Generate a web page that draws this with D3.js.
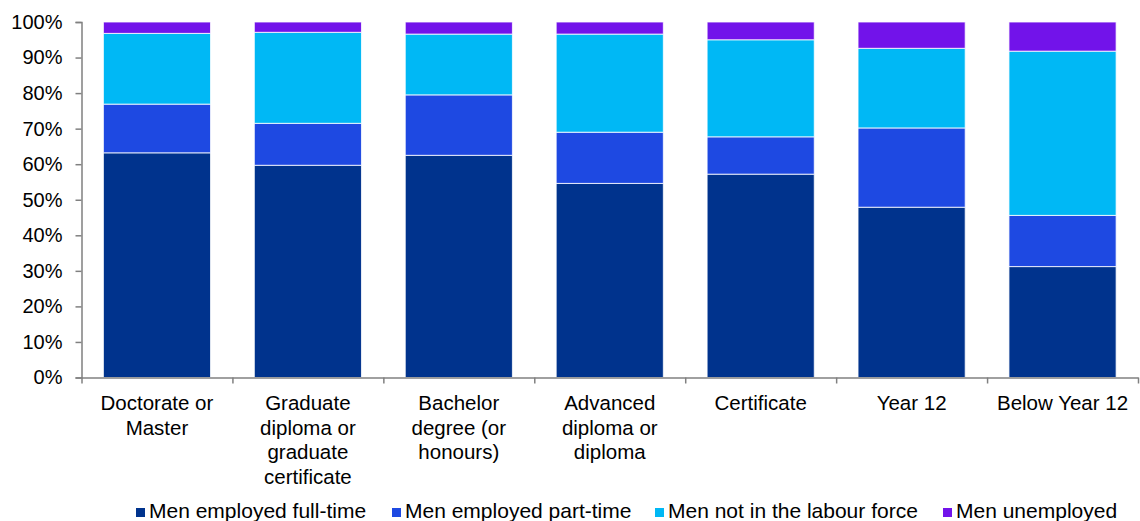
<!DOCTYPE html>
<html>
<head>
<meta charset="utf-8">
<script src="https://cdn.jsdelivr.net/npm/d3@7"></script>
<style>
  html, body { margin: 0; padding: 0; background: #fff; }
  svg { display: block; font-family: "Liberation Sans", Arial, sans-serif; }
</style>
</head>
<body>
<svg id="chart" width="1140" height="521"></svg>
<script>
// ---- Data ----
const categories = [
  "Doctorate or\nMaster",
  "Graduate\ndiploma or\ngraduate\ncertificate",
  "Bachelor\ndegree (or\nhonours)",
  "Advanced\ndiploma or\ndiploma",
  "Certificate",
  "Year 12",
  "Below Year 12"
];
const seriesNames = [
  "Men employed full-time",
  "Men employed part-time",
  "Men not in the labour force",
  "Men unemployed"
];
const fullTime   = [63.2, 59.7, 62.5, 54.6, 57.2, 47.9, 31.2];
const partTime   = [13.7, 11.8, 17.0, 14.4, 10.5, 22.3, 14.4];
const notInLF    = [19.9, 25.6, 17.1, 27.6, 27.3, 22.4, 46.2];
const unemployed = [ 3.2,  2.9,  3.4,  3.4,  5.0,  7.4,  8.2];
const yTicks = [0, 10, 20, 30, 40, 50, 60, 70, 80, 90, 100];
const colors = ["#00338D", "#1E49E2", "#00B8F5", "#7213EA"];

// ---- Layout ----
const svg = d3.select("#chart");
const mLeft = 81.5, mRight = 1138, mTop = 22, mBottom = 377.5;

const rows = categories.map((c, i) => ({
  cat: c,
  [seriesNames[0]]: fullTime[i],
  [seriesNames[1]]: partTime[i],
  [seriesNames[2]]: notInLF[i],
  [seriesNames[3]]: unemployed[i]
}));
const stack = d3.stack().keys(seriesNames)(rows);

const x = d3.scaleBand().domain(categories).range([mLeft, mRight])
  .paddingInner(0.29).paddingOuter(0.145);
const y = d3.scaleLinear().domain([0, 100]).range([mBottom, mTop]);
const color = d3.scaleOrdinal().domain(seriesNames).range(colors);

// Bars
svg.append("g").selectAll("g").data(stack).join("g")
  .attr("fill", d => color(d.key))
  .selectAll("rect").data(d => d).join("rect")
  .attr("x", d => x(d.data.cat))
  .attr("width", x.bandwidth())
  .attr("y", d => y(d[1]))
  .attr("height", d => y(d[0]) - y(d[1]))
  .attr("stroke", "#ffffff")
  .attr("stroke-opacity", 0.8)
  .attr("stroke-width", 1);

// Y axis
const yAxis = svg.append("g").attr("transform", `translate(${mLeft},0)`)
  .call(d3.axisLeft(y).tickValues(yTicks).tickFormat(d => d + "%")
    .tickSize(6).tickPadding(13));
yAxis.select(".domain").attr("stroke", "#808080").attr("stroke-width", 1.5);
yAxis.selectAll(".tick line").attr("stroke", "#808080").attr("stroke-width", 1.5);
yAxis.selectAll(".tick text").attr("fill", "#000").attr("font-size", 20)
  .attr("font-family", "Liberation Sans, Arial, sans-serif");

// X axis (ticks at band boundaries)
const idx = d3.scaleLinear().domain([0, categories.length]).range([mLeft, mRight]);
const xAxis = svg.append("g").attr("transform", `translate(0,${mBottom})`)
  .call(d3.axisBottom(idx).tickValues(d3.range(0, categories.length + 1))
    .tickSize(6).tickSizeOuter(0).tickFormat(""));
xAxis.select(".domain").attr("stroke", "#808080").attr("stroke-width", 1.5);
xAxis.selectAll(".tick line").attr("stroke", "#808080").attr("stroke-width", 1.5);

// Category labels
const lab = svg.append("g").selectAll("text").data(categories).join("text")
  .attr("text-anchor", "middle")
  .attr("font-size", 20.5)
  .attr("fill", "#000");
lab.each(function(c) {
  const t = d3.select(this);
  c.split("\n").forEach((line, j) => {
    t.append("tspan")
      .attr("x", x(c) + x.bandwidth() / 2)
      .attr("y", 410 + j * 24.6)
      .text(line);
  });
});

// Legend
const legendX = [136, 392, 655, 943];
const leg = svg.append("g").selectAll("g").data(seriesNames).join("g")
  .attr("transform", (d, i) => `translate(${legendX[i]},0)`);
leg.append("rect").attr("x", 0).attr("y", 508).attr("width", 9).attr("height", 9)
  .attr("fill", d => color(d));
leg.append("text").attr("x", 13).attr("y", 518).attr("font-size", 21)
  .attr("fill", "#000").text(d => d);
</script>
</body>
</html>
